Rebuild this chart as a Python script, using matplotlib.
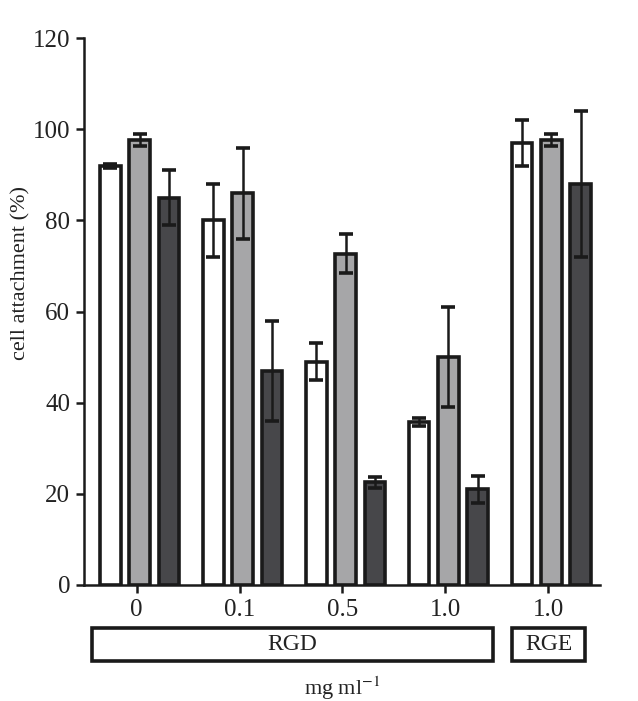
import matplotlib
matplotlib.use("Agg")
import matplotlib.pyplot as plt
import matplotlib.transforms as mtransforms
from matplotlib.patches import Rectangle
import numpy as np

plt.rcParams['font.family'] = ['Liberation Serif', 'DejaVu Serif']
plt.rcParams['mathtext.fontset'] = 'stix'

tick_labels = ["0", "0.1", "0.5", "1.0", "1.0"]
white_vals = [92, 80, 49, 35.8, 97]
white_err = [0.5, 8, 4, 0.8, 5]
gray_vals = [97.6, 86, 72.7, 50, 97.6]
gray_err = [1.3, 10, 4.3, 11, 1.3]
dark_vals = [85, 47, 22.5, 21, 88]
dark_err = [6, 11, 1.3, 3, 16]
group_names = ["RGD", "RGE"]
group_spans = [(0, 3), (4, 4)]

fig = plt.figure(figsize=(6.38, 7.01), dpi=100)
ax = fig.add_axes([0.132, 0.1655, 0.808, 0.780])

x = np.arange(len(tick_labels))
w = 0.2
off = 0.285
series = [(white_vals, white_err, "white"),
          (gray_vals, gray_err, "#a6a6a8"),
          (dark_vals, dark_err, "#47474a")]
for i, (vals, errs, col) in enumerate(series):
    pos = x + (i - 1) * off + 0.03
    ax.bar(pos, vals, width=w, color=col, edgecolor="#1a1a1a", linewidth=2.6, zorder=2)
    ax.errorbar(pos, vals, yerr=errs, fmt="none", ecolor="#1a1a1a",
                elinewidth=1.8, capsize=5, capthick=2.6, zorder=3)

ax.set_xlim(-0.51, 4.5)
ax.set_ylim(0, 120)
ax.set_yticks(range(0, 121, 20))
ax.set_xticks(x)
ax.set_xticklabels(tick_labels)
for s in ["top", "right"]:
    ax.spines[s].set_visible(False)
for s in ["left", "bottom"]:
    ax.spines[s].set_linewidth(1.8)
    ax.spines[s].set_color("#1a1a1a")
ax.tick_params(axis="both", direction="out", length=6, width=1.8, colors="#1a1a1a",
               labelsize=18, labelcolor="#222222", pad=4)
ax.set_ylabel("cell attachment (%)", fontsize=16, color="#222222")
ax.yaxis.set_label_coords(-0.105, 0.57)

trans = mtransforms.blended_transform_factory(ax.transData, ax.transAxes)
for name, (a, b) in zip(group_names, group_spans):
    x0 = a - 0.43 if a == 0 else a - 0.35
    x1 = b + 0.36 if name == "RGE" else b + 0.46
    r = Rectangle((x0, -0.139), x1 - x0, 0.06, transform=trans, fill=False,
                  edgecolor="#1a1a1a", linewidth=2.6, clip_on=False)
    ax.add_patch(r)
    ax.text((x0 + x1) / 2, -0.108, name, transform=trans, ha="center", va="center",
            fontsize=17, color="#222222")

ax.text(0.5, -0.188, "mg ml$^{-1}$", transform=ax.transAxes,
        ha="center", va="center", fontsize=16, color="#222222")

fig.savefig("out.png", dpi=100)
